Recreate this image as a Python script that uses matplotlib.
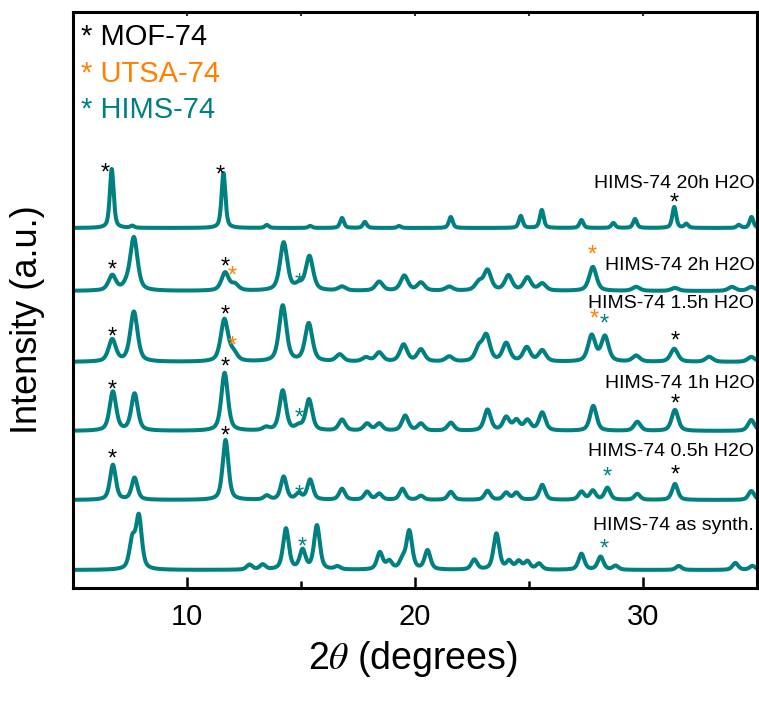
import matplotlib
matplotlib.use("Agg")
import matplotlib.pyplot as plt
import numpy as np
from matplotlib.ticker import MultipleLocator

# peak tables: 2theta position (deg), height (a.u.)
synth_pos = [7.6, 7.89, 12.74, 13.32, 14.34, 15.07, 15.7, 16.6, 18.46, 18.87, 19.45, 19.75,
             20.55, 22.6, 23.57, 24.13, 24.55, 24.93, 25.44, 27.3, 28.14, 28.8, 31.57, 34.05, 34.8]
synth_ht = [28, 52, 5, 5, 41, 19, 44, 3, 17, 8, 9, 38,
            19, 10, 36, 8, 8, 8, 6, 16, 13, 4, 4, 7, 4]

h05_pos = [6.75, 7.7, 11.69, 13.5, 14.24, 14.9, 15.4, 16.8, 17.9, 18.43, 19.45, 20.26,
           21.57, 23.18, 24.0, 24.45, 25.58, 27.3, 27.8, 28.44, 29.75, 31.4, 34.75]
h05_ht = [35, 22, 60, 4, 23, 6, 20, 11, 8, 6, 11, 4,
          8, 9, 7, 7, 15, 8, 9, 12, 6, 16, 9]

h1_pos = [6.75, 7.7, 11.65, 13.47, 14.2, 14.9, 15.35, 16.8, 17.9, 18.43, 19.57, 20.26,
          21.57, 23.18, 24.0, 24.45, 24.93, 25.58, 27.82, 29.75, 31.4, 34.75]
h1_ht = [39, 37, 58, 3, 40, 4, 31, 11, 7, 7, 15, 7,
         8, 21, 13, 10, 10, 18, 25, 9, 21, 11]

h15_pos = [6.72, 7.67, 11.64, 12.04, 14.2, 15.34, 16.7, 17.85, 18.43, 19.5, 20.26, 21.5,
           22.8, 23.13, 24.0, 24.9, 25.58, 27.75, 28.33, 29.7, 31.37, 32.9, 34.75]
h15_ht = [22, 50, 42, 8, 56, 38, 7, 4, 9, 17, 12, 5,
          13, 25, 18, 14, 11, 26, 25, 6, 13, 5, 5]

h2_pos = [6.72, 7.34, 7.67, 11.67, 12.1, 14.24, 14.9, 15.37, 16.8, 18.43, 19.53, 20.26,
          21.5, 22.8, 23.18, 24.1, 24.93, 25.58, 27.8, 29.7, 31.4, 33.9, 34.75]
h2_ht = [15, 4, 53, 18, 6, 48, 5, 34, 4, 9, 15, 8,
         4, 8, 20, 15, 13, 7, 24, 4, 3, 4, 4]

h20_pos = [6.7, 7.6, 11.6, 13.5, 15.4, 16.8, 17.8, 19.3, 21.57, 24.64, 25.56, 27.3,
           28.7, 29.65, 31.37, 31.9, 34.2, 34.76]
h20_ht = [59, 2, 55, 3, 2, 10, 6, 2, 11, 12, 18, 8,
          5, 9, 21, 4, 3, 11]

# stacked order (bottom -> top)
names = ["HIMS-74 as synth.", "HIMS-74 0.5h H2O", "HIMS-74 1h H2O",
         "HIMS-74 1.5h H2O", "HIMS-74 2h H2O", "HIMS-74 20h H2O"]
positions = [synth_pos, h05_pos, h1_pos, h15_pos, h2_pos, h20_pos]
heights = [synth_ht, h05_ht, h1_ht, h15_ht, h2_ht, h20_ht]
offsets = [18, 88, 157, 226, 297, 360]
fwhms = [0.3, 0.3, 0.34, 0.38, 0.38, 0.2]
label_y = [62, 137, 205, 284, 322, 405]

# markers: (2theta, y, phase)
stars = [
    (6.43, 414, "MOF"), (11.45, 412, "MOF"), (31.35, 384, "MOF"),
    (6.72, 317, "MOF"), (11.69, 320, "MOF"), (12.0, 311, "UTSA"), (14.93, 304, "HIMS"), (27.78, 332, "UTSA"),
    (6.72, 250, "MOF"), (11.69, 272, "MOF"), (12.0, 241, "UTSA"), (27.85, 268, "UTSA"), (28.32, 263, "HIMS"),
    (31.4, 246, "MOF"),
    (6.72, 197, "MOF"), (11.66, 220, "MOF"), (14.9, 169, "HIMS"), (31.4, 183, "MOF"),
    (6.72, 128, "MOF"), (11.69, 151, "MOF"), (14.9, 92, "HIMS"), (28.43, 110, "HIMS"), (31.4, 112, "MOF"),
    (15.07, 40, "HIMS"), (28.3, 38, "HIMS"),
]

legend_names = ["MOF-74", "UTSA-74", "HIMS-74"]
teal = "#008080"
colors = {"MOF": "black", "UTSA": "#ff8000", "HIMS": teal}

plt.rcParams["font.family"] = ["Liberation Sans", "DejaVu Sans"]
plt.rcParams["mathtext.fontset"] = "stix"


def pseudo_voigt(x, pos, ht, fwhm, eta=0.55):
    g = np.exp(-4 * np.log(2) * ((x - pos) / fwhm) ** 2)
    lor = 1 / (1 + 4 * ((x - pos) / fwhm) ** 2)
    return ht * (eta * lor + (1 - eta) * g)


tt = np.linspace(5, 35, 3001)

fig = plt.figure(figsize=(7.59, 7.02), dpi=100)
ax = fig.add_axes([73 / 759, 1 - 588 / 702, 684 / 759, 576 / 702])

for name, pos, ht, off, w, ly in zip(names, positions, heights, offsets, fwhms, label_y):
    y = np.full_like(tt, off, dtype=float)
    for p, h in zip(pos, ht):
        y += pseudo_voigt(tt, p, h, w)
    ax.plot(tt, y, color=teal, lw=2.9, solid_joinstyle="round")
    ax.text(34.88, ly, name, ha="right", va="center", fontsize=14)

for x, y, ph in stars:
    ax.text(x, y, "*", ha="center", va="center", fontsize=17, color=colors[ph])

for i, (lab, key) in enumerate(zip(legend_names, ["MOF", "UTSA", "HIMS"])):
    ax.text(5.33, 551 - i * 36.5, "* " + lab, ha="left", va="center", fontsize=21, color=colors[key])

ax.set_xlim(5, 35)
ax.set_ylim(0, 576)
ax.set_yticks([])
ax.xaxis.set_major_locator(MultipleLocator(10))
ax.xaxis.set_minor_locator(MultipleLocator(5))
ax.tick_params(axis="x", which="major", direction="in", length=8, width=1.8, labelsize=21, pad=11)
ax.tick_params(axis="x", which="minor", direction="in", length=5, width=1.8)
for s in ax.spines.values():
    s.set_linewidth(2.2)

top = ax.secondary_xaxis("top")
top.xaxis.set_major_locator(MultipleLocator(5))
top.tick_params(direction="in", length=3, width=1.2, labeltop=False)

fig.text(413 / 759, 1 - 659 / 702, r"2$\theta$ (degrees)", ha="center", va="center", fontsize=27)
fig.text(28 / 759, 1 - 320 / 702, "Intensity (a.u.)", ha="center", va="center",
         rotation=90, fontsize=26)

fig.savefig("out.png", dpi=100)
